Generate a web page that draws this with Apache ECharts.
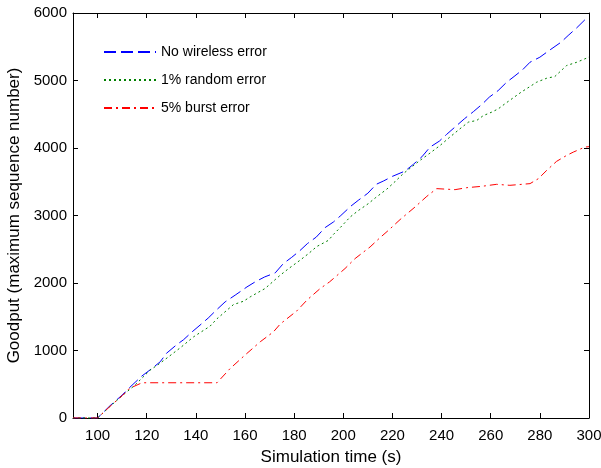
<!DOCTYPE html>
<html>
<head>
<meta charset="utf-8">
<script src="https://cdn.jsdelivr.net/npm/echarts@6/dist/echarts.min.js"></script>
<style>html,body{margin:0;padding:0;background:#fff}#c{width:601px;height:468px}</style>
</head>
<body>
<div id="c"></div>
<script>
const seriesNames = ['No wireless error', '1% random error', '5% burst error'];
const xTicks = [100, 120, 140, 160, 180, 200, 220, 240, 260, 280, 300];

const tBlue = [90, 100, 105, 110, 113, 118, 122, 125.5, 128, 132, 135, 138.5, 142.5, 145, 148.6, 151.9, 156, 160.8, 164.1, 168, 172.3, 175.6, 179, 182.2, 185.4, 189, 192.6, 196, 199, 203, 206.1, 210, 213.4, 216.3, 220, 225.1, 228.5, 232, 235.3, 239.1, 242, 246.2, 249.3, 253, 256.7, 259.4, 263, 266.5, 269.5, 273, 276, 280, 284, 288.6, 291.5, 295, 298.7, 300];
const vBlue = [0, 0, 180, 340, 450, 621, 730, 833, 957, 1080, 1160, 1277, 1401, 1480, 1608, 1720, 1820, 1942, 2016, 2090, 2150, 2288, 2380, 2475, 2584, 2680, 2821, 2904, 3000, 3136, 3225, 3330, 3462, 3510, 3580, 3658, 3757, 3870, 4013, 4102, 4200, 4334, 4433, 4540, 4655, 4753, 4850, 4975, 5059, 5160, 5271, 5345, 5450, 5567, 5666, 5780, 5913, 5940];

const tGreen = [90, 100, 105, 110, 115, 121.4, 125, 128.9, 134, 139.1, 145.8, 148.6, 155.3, 159.4, 162.1, 168.2, 174.3, 178, 182.4, 186, 189.2, 194, 196, 199, 202.8, 206, 210.2, 213, 217.7, 221, 224.4, 227.2, 231, 235.3, 239.4, 243, 247.5, 250.9, 254.3, 257, 260.4, 263.1, 265.8, 269.2, 272.5, 276, 278.7, 282.8, 286.1, 290.9, 295, 299.3, 300];
const vGreen = [0, 0, 170, 330, 480, 710, 800, 907, 1050, 1203, 1361, 1470, 1680, 1730, 1794, 1919, 2115, 2220, 2337, 2440, 2540, 2633, 2720, 2830, 2978, 3070, 3176, 3260, 3390, 3500, 3620, 3700, 3810, 3925, 4038, 4150, 4285, 4383, 4408, 4480, 4531, 4581, 4655, 4744, 4830, 4911, 4975, 5034, 5059, 5222, 5270, 5336, 5350];

const tRed = [90, 100, 105, 110, 113, 118.1, 148.6, 154, 160, 166.2, 171.6, 174.3, 181.1, 185.2, 190.6, 194.4, 196, 200.7, 204.8, 210.9, 215, 218.4, 223.1, 229.2, 234, 238, 245.5, 250.2, 256.3, 262.4, 267.8, 276, 279.4, 282.8, 286.8, 290.9, 293.6, 298.3, 300];
const vRed = [0, 0, 170, 330, 439, 522, 522, 735, 932, 1129, 1277, 1391, 1587, 1746, 1918, 2016, 2066, 2214, 2362, 2534, 2673, 2781, 2939, 3126, 3284, 3398, 3383, 3412, 3432, 3462, 3447, 3472, 3546, 3669, 3802, 3890, 3939, 4013, 4020];

function pairs(t, v) { return t.map((x, i) => [x, v[i]]); }

const FONT = "'Liberation Sans', Arial, sans-serif";
const chart = echarts.init(document.getElementById('c'));
function xAxisDef(pos, extra) {
  return Object.assign({
    type: 'value', min: 90, max: 300, position: pos,
    axisLine: { show: true, onZero: false, lineStyle: { color: '#000', width: 1 } },
    axisTick: { show: true, inside: true, length: 5, customValues: xTicks, lineStyle: { color: '#000', width: 1 } },
    splitLine: { show: false }
  }, extra);
}
function yAxisDef(pos, extra) {
  return Object.assign({
    type: 'value', min: 0, max: 6000, interval: 1000, position: pos,
    axisLine: { show: true, onZero: false, lineStyle: { color: '#000', width: 1 } },
    axisTick: { show: true, inside: true, length: 5, lineStyle: { color: '#000', width: 1 } },
    splitLine: { show: false }
  }, extra);
}
chart.setOption({
  animation: false,
  backgroundColor: '#fff',
  textStyle: { fontFamily: FONT },
  grid: { left: 73, right: 12, top: 13, bottom: 50, containLabel: false, outerBoundsMode: 'none' },
  legend: {
    orient: 'vertical', left: 98, top: 40, itemWidth: 52, itemHeight: 14, itemGap: 14,
    itemStyle: { opacity: 0 },
    textStyle: { fontSize: 14, color: '#000', fontFamily: FONT },
    data: seriesNames
  },
  xAxis: [
    xAxisDef('bottom', {
      name: 'Simulation time (s)', nameLocation: 'middle', nameGap: 31,
      nameTextStyle: { fontSize: 17, color: '#000', fontFamily: FONT },
      axisLabel: { show: true, customValues: xTicks, margin: 10, fontSize: 15, color: '#000', fontFamily: FONT }
    }),
    xAxisDef('top', { axisLabel: { show: false } })
  ],
  yAxis: [
    yAxisDef('left', {
      name: 'Goodput (maximum sequence number)', nameLocation: 'middle', nameGap: 49,
      nameTextStyle: { fontSize: 17, color: '#000', fontFamily: FONT },
      axisLabel: { show: true, margin: 6, fontSize: 15, color: '#000', fontFamily: FONT, formatter: v => String(v) }
    }),
    yAxisDef('right', { axisLabel: { show: false } })
  ],
  series: [
    { name: seriesNames[0], type: 'line', data: pairs(tBlue, vBlue), symbol: 'none', color: '#0000ff',
      lineStyle: { color: '#0000ff', width: 1, type: [12, 5] } },
    { name: seriesNames[1], type: 'line', data: pairs(tGreen, vGreen), symbol: 'none', color: '#008000',
      lineStyle: { color: '#008000', width: 1, type: [2, 3] } },
    { name: seriesNames[2], type: 'line', data: pairs(tRed, vRed), symbol: 'none', color: '#ff0000',
      lineStyle: { color: '#ff0000', width: 1, type: [8, 4, 2, 4] } }
  ]
});
</script>
</body>
</html>
